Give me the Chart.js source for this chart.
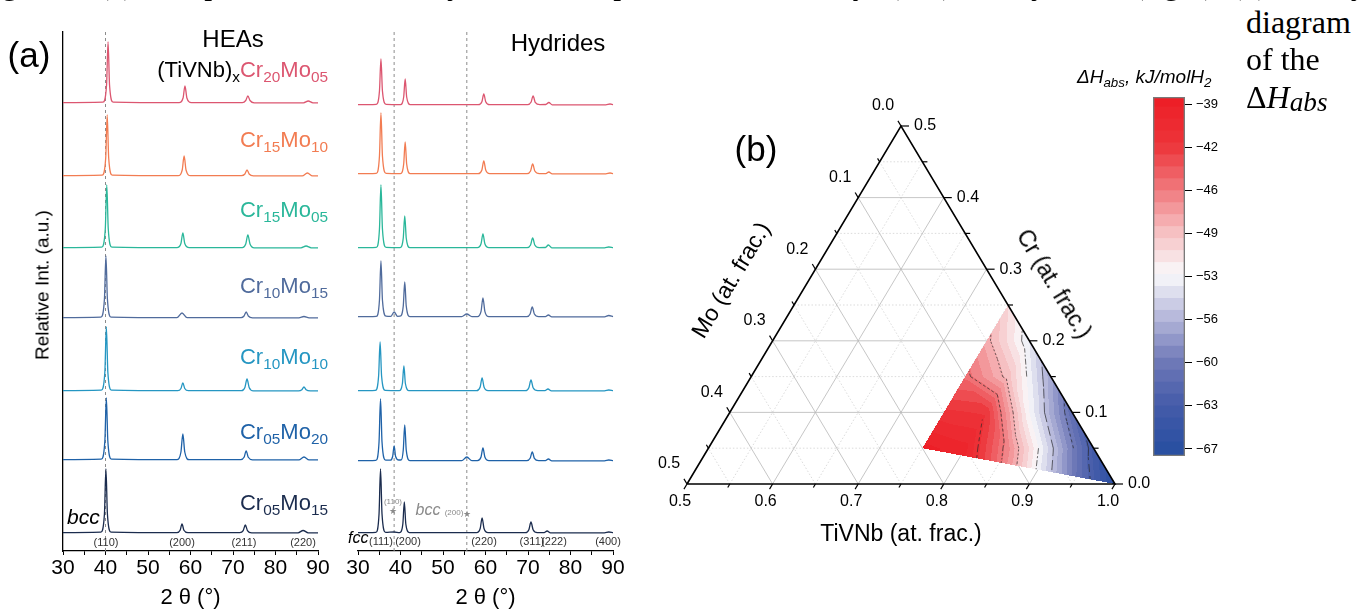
<!DOCTYPE html>
<html>
<head>
<meta charset="utf-8">
<script src="https://cdn.jsdelivr.net/npm/chart.js@4.4.0/dist/chart.umd.min.js"></script>
<style>
html, body { margin: 0; padding: 0; background: #fff; }
body { width: 1366px; height: 609px; position: relative; overflow: hidden; }
canvas { position: absolute; }
.lbl { position: absolute; white-space: nowrap; font-family: Arial, "Liberation Sans", sans-serif; line-height: 1; color: #000; }
.c { transform: translate(-50%, -50%); }
.r { transform: translate(-100%, -50%); }
.l { transform: translateY(-50%); }
.s { font-size: 70%; position: relative; top: .32em; }
.serif { position: absolute; white-space: nowrap; font-family: "Liberation Serif", "Times New Roman", serif; font-size: 32px; line-height: 1; color: #000; }
.hkl { font-size: 11px; color: #333; }
.gray { color: #8a8a8a; }
</style>
</head>
<body>
<canvas id="xrdHea" width="340" height="609" style="left:0;top:0"></canvas>
<canvas id="xrdHyd" width="300" height="609" style="left:340px;top:0"></canvas>
<canvas id="ternary" width="520" height="609" style="left:640px;top:0"></canvas>
<canvas id="cbar" width="110" height="420" style="left:1140px;top:60px"></canvas>

<!-- caption fragments -->
<div class="serif" style="left:-25px;top:-33px">Figure 2. (a) Comparison of the X-ray diffraction patterns of the alloys (left) and hydrides (right), (b) ternary</div>
<div class="serif" style="left:1246px;top:6px">diagram</div>
<div class="serif" style="left:1246px;top:43px">of the</div>
<div class="serif" style="left:1246px;top:81px">&Delta;<i>H</i><i style="font-size:85%;position:relative;top:.12em">abs</i></div>

<!-- panel (a) -->
<div class="lbl c" style="left:29px;top:54px;font-size:35px">(a)</div>
<div class="lbl c" style="left:233px;top:39px;font-size:24px">HEAs</div>
<div class="lbl c" style="left:558px;top:43px;font-size:24px">Hydrides</div>
<div class="lbl r" style="left:328px;top:70px;font-size:22px">(TiVNb)<span class="s">x</span><span style="color:#dc5670">Cr<span class="s">20</span>Mo<span class="s">05</span></span></div>
<div class="lbl r" style="left:328px;top:140px;font-size:22px;color:#f27c52">Cr<span class="s">15</span>Mo<span class="s">10</span></div>
<div class="lbl r" style="left:328px;top:210px;font-size:22px;color:#2ab79a">Cr<span class="s">15</span>Mo<span class="s">05</span></div>
<div class="lbl r" style="left:328px;top:286px;font-size:22px;color:#506b9c">Cr<span class="s">10</span>Mo<span class="s">15</span></div>
<div class="lbl r" style="left:328px;top:357px;font-size:22px;color:#2596c2">Cr<span class="s">10</span>Mo<span class="s">10</span></div>
<div class="lbl r" style="left:328px;top:432px;font-size:22px;color:#1f62a8">Cr<span class="s">05</span>Mo<span class="s">20</span></div>
<div class="lbl r" style="left:328px;top:503px;font-size:22px;color:#1b2c4e">Cr<span class="s">05</span>Mo<span class="s">15</span></div>
<div class="lbl" style="left:67px;top:506px;font-size:21px;font-style:italic">bcc</div>
<div class="lbl c hkl" style="left:106px;top:542px">(110)</div>
<div class="lbl c hkl" style="left:182px;top:542px">(200)</div>
<div class="lbl c hkl" style="left:244px;top:542px">(211)</div>
<div class="lbl c hkl" style="left:303px;top:542px">(220)</div>
<div class="lbl c" style="left:42px;top:285px;font-size:19px;transform:translate(-50%,-50%) rotate(-90deg)">Relative Int. (a.u.)</div>

<div class="lbl" style="left:348px;top:530px;font-size:16px;font-style:italic">fcc</div>
<div class="lbl c hkl" style="left:381px;top:541px">(111)</div>
<div class="lbl c hkl" style="left:408px;top:541px">(200)</div>
<div class="lbl c hkl" style="left:484px;top:541px">(220)</div>
<div class="lbl c hkl" style="left:532px;top:541px">(311)</div>
<div class="lbl c hkl" style="left:554px;top:541px">(222)</div>
<div class="lbl c hkl" style="left:608px;top:541px">(400)</div>
<div class="lbl c gray" style="left:393px;top:502px;font-size:8px">(110)</div>
<div class="lbl c gray" style="left:393px;top:511px;font-size:9px">&#9733;</div>
<div class="lbl c gray" style="left:428px;top:510px;font-size:16px;font-style:italic">bcc</div>
<div class="lbl c gray" style="left:454px;top:513px;font-size:8px">(200)</div>
<div class="lbl c gray" style="left:467px;top:514px;font-size:9px">&#9733;</div>

<!-- panel (b) -->
<div class="lbl c" style="left:756px;top:148px;font-size:35px">(b)</div>
<div class="lbl c" style="left:901px;top:533px;font-size:23px">TiVNb (at. frac.)</div>
<div class="lbl" style="left:731px;top:280px;font-size:23px;transform:translate(-50%,-50%) rotate(-59deg)">Mo (at. frac.)</div>
<div class="lbl" style="left:1054px;top:284px;font-size:23px;transform:translate(-50%,-50%) rotate(59deg)">Cr (at. frac.)</div>
<div class="lbl l" style="left:1077px;top:76px;font-size:19px;font-style:italic">&Delta;H<span class="s">abs</span>, kJ/molH<span class="s">2</span></div>

<script>
Chart.defaults.font.family = 'Arial, "Liberation Sans", sans-serif';
Chart.defaults.color = '#000';

// ---- XRD data: [2theta, relative intensity] ----
const sampleNames = ['Cr20Mo05', 'Cr15Mo10', 'Cr15Mo05', 'Cr10Mo15', 'Cr10Mo10', 'Cr05Mo20', 'Cr05Mo15'];
const traceColors = ['#dc5670', '#f27c52', '#2ab79a', '#506b9c', '#2596c2', '#1f62a8', '#1b2c4e'];
const heaOffsets = [448, 375, 303, 233, 160, 91, 18];
const hydOffsets = [446, 377, 303, 234, 160, 90, 18];
const xTicks = [30, 40, 50, 60, 70, 80, 90];
const heaRefLines = [40.0];
const hydRefLines = [38.5, 55.6];

const heaPatterns = [
  [[30,0.3],[39.4,0.8],[40.25,18],[40.6,61],[40.95,18],[41.8,0.8],[57.3,0.3],[58.25,5],[58.7,17],[59.15,5],[60.2,0.3],[72.2,0.3],[73.0,2.5],[73.5,7],[74.0,2.5],[75.0,0.2],[86.6,0.2],[87.7,2],[88.8,0.2],[90,0.2]],
  [[30,0.3],[39.2,0.8],[40.05,18],[40.4,61],[40.75,18],[41.6,0.8],[57.1,0.3],[58.05,6],[58.5,20],[58.95,6],[60.0,0.3],[72.0,0.3],[72.8,2],[73.3,6],[73.8,2],[74.8,0.2],[86.3,0.2],[87.5,3],[88.7,0.2],[90,0.2]],
  [[30,0.3],[39.1,0.8],[39.95,19],[40.3,63],[40.65,19],[41.5,0.8],[56.8,0.3],[57.75,4.5],[58.2,15],[58.65,4.5],[59.7,0.3],[72.2,0.3],[73.0,4],[73.5,13],[74.0,4],[75.0,0.2],[86.0,0.2],[87.2,2],[88.4,0.2],[90,0.2]],
  [[30,0.3],[38.9,0.8],[39.75,19],[40.1,62],[40.45,19],[41.3,0.8],[56.8,0.3],[58.0,5],[59.2,0.3],[71.9,0.3],[72.6,2],[73.1,6],[73.6,2],[74.6,0.2],[85.5,0.2],[86.7,1.5],[87.9,0.2],[90,0.2]],
  [[30,0.3],[39.0,0.8],[39.85,19],[40.2,64],[40.55,19],[41.4,0.8],[57.0,0.3],[57.75,2.5],[58.2,8],[58.65,2.5],[59.5,0.3],[72.0,0.3],[72.8,3.6],[73.3,12],[73.8,3.6],[74.8,0.2],[85.4,0.2],[86.2,1.3],[86.7,4],[87.2,1.3],[88.2,0.2],[90,0.2]],
  [[30,0.3],[39.0,0.8],[39.85,19],[40.2,62],[40.55,19],[41.4,0.8],[56.8,0.3],[57.75,8],[58.2,26],[58.65,8],[59.7,0.3],[71.8,0.3],[72.6,2.7],[73.1,9],[73.6,2.7],[74.6,0.2],[85.5,0.2],[86.7,3],[87.9,0.2],[90,0.2]],
  [[30,0.3],[38.9,0.8],[39.75,19],[40.1,64],[40.45,19],[41.3,0.8],[56.8,0.3],[57.55,2.7],[58.0,9],[58.45,2.7],[59.4,0.3],[71.6,0.3],[72.4,2.4],[72.9,8],[73.4,2.4],[74.4,0.2],[85.3,0.2],[86.5,2.5],[87.7,0.2],[90,0.2]]
];

const hydPatterns = [
  [[30,0.3],[34.3,0.6],[35.05,14],[35.4,46],[35.75,14],[36.6,0.6],[40.0,0.4],[40.75,8],[41.1,26],[41.45,8],[42.3,0.4],[58.3,0.3],[59.15,3.3],[59.6,11],[60.05,3.3],[61.0,0.3],[69.9,0.3],[70.7,2.7],[71.2,9],[71.7,2.7],[72.8,0.4],[74.2,0.5],[74.9,2.5],[75.7,0.2],[88.3,0.2],[89.3,1],[90,0.3]],
  [[30,0.3],[34.3,0.6],[35.05,18],[35.4,61],[35.75,18],[36.6,0.6],[40.0,0.4],[40.75,10],[41.1,32],[41.45,10],[42.3,0.4],[58.3,0.3],[59.15,4],[59.6,13],[60.05,4],[61.0,0.3],[69.8,0.3],[70.6,3],[71.1,10],[71.6,3],[72.7,0.4],[74.2,0.4],[74.9,2],[75.7,0.2],[88.3,0.2],[89.3,1],[90,0.3]],
  [[30,0.3],[34.3,0.6],[35.05,19],[35.4,63],[35.75,19],[36.6,0.6],[39.9,0.4],[40.65,10],[41.0,32],[41.35,10],[42.2,0.4],[58.1,0.3],[58.95,4.2],[59.4,14],[59.85,4.2],[60.8,0.3],[69.8,0.3],[70.6,3],[71.1,10],[71.6,3],[72.6,0.4],[74.1,0.5],[74.8,3],[75.6,0.2],[88.0,0.2],[89.0,1],[90,0.3]],
  [[30,0.3],[34.3,0.6],[35.05,17],[35.4,56],[35.75,17],[36.6,0.8],[37.7,0.6],[38.5,5],[39.3,0.7],[39.9,0.8],[40.65,11],[41.0,35],[41.35,11],[42.2,0.4],[54.4,0.3],[55.6,3],[56.8,0.3],[58.1,0.4],[58.95,5.7],[59.4,19],[59.85,5.7],[60.8,0.3],[69.7,0.3],[70.5,3],[71.0,10],[71.5,3],[72.5,0.4],[74.1,0.4],[74.8,2],[75.6,0.2],[88.0,0.2],[89.0,1.5],[90,0.3]],
  [[30,0.3],[34.1,0.6],[34.85,15],[35.2,49],[35.55,15],[36.4,0.6],[39.7,0.4],[40.45,7.5],[40.8,25],[41.15,7.5],[42.0,0.4],[57.9,0.3],[58.75,4],[59.2,13],[59.65,4],[60.6,0.3],[69.4,0.3],[70.2,3.3],[70.7,11],[71.2,3.3],[72.3,0.4],[74.0,0.4],[74.7,2],[75.5,0.2],[88.0,0.2],[89.0,1],[90,0.3]],
  [[30,0.3],[34.2,0.6],[34.95,19],[35.3,62],[35.65,19],[36.5,0.8],[37.6,0.8],[38.15,4.5],[38.5,15],[38.85,4.5],[39.6,1],[40.2,1.2],[40.65,11],[41.0,36],[41.35,11],[42.2,0.4],[54.4,0.3],[55.6,4],[56.8,0.3],[58.1,0.4],[58.95,4],[59.4,13],[59.85,4],[60.8,0.3],[69.7,0.3],[70.5,2.7],[71.0,9],[71.5,2.7],[72.5,0.4],[74.1,0.4],[74.8,2],[75.6,0.2],[88.0,0.2],[89.0,1],[90,0.3]],
  [[30,0.3],[34.2,0.6],[34.95,19],[35.3,64],[35.65,19],[36.5,0.6],[38.5,1],[39.8,0.4],[40.55,9],[40.9,31],[41.25,9],[42.1,0.4],[57.9,0.3],[58.75,4.5],[59.2,15],[59.65,4.5],[60.6,0.3],[69.4,0.3],[70.2,3.3],[70.7,11],[71.2,3.3],[72.2,0.4],[73.8,0.4],[74.5,2],[75.3,0.2],[88.0,0.2],[89.0,1],[90,0.3]]
];

// ---- ternary data ----
const regionT = [0.75, 0.75, 1.0];
const regionC = [0.25, 0.05, 0.0];
const heatT = [0.75, 0.75, 0.75, 0.75, 0.75, 0.75, 0.80, 0.80, 0.80, 0.80, 0.80, 0.85, 0.85, 0.85, 0.85, 0.90, 0.90, 0.90, 0.95, 0.95, 1.00];
const heatC = [0.25, 0.20, 0.15, 0.10, 0.05, 0.00, 0.20, 0.15, 0.10, 0.05, 0.00, 0.15, 0.10, 0.05, 0.00, 0.10, 0.05, 0.00, 0.05, 0.00, 0.00];
const heatV = [-51, -48.5, -45.5, -42, -39, -38.5, -54, -49.5, -42.5, -40, -39.5, -57.5, -53, -46.8, -44, -61.5, -55.5, -52, -64, -60, -67];
const contourLevels = [-42, -46, -49, -53, -56, -60, -63];
const tivnbTicks = [0.5, 0.6, 0.7, 0.8, 0.9, 1.0];
const sideTicks = [0.0, 0.1, 0.2, 0.3, 0.4, 0.5];
const gridMajor = [0.1, 0.2, 0.3, 0.4];
const gridMinor = [0.05, 0.15, 0.25, 0.35, 0.45];

// ---- colour bar ----
const cbLo = -67.57, cbHi = -38.43, cbBands = 30;
const cbTicks = [-67, -63.5, -60, -56.5, -53, -49.5, -46, -42.5, -39];
const cmapStops = [
  [-67.6, [38, 78, 160]],
  [-63.5, [70, 92, 170]],
  [-60, [112, 122, 184]],
  [-56.5, [182, 184, 219]],
  [-53, [250, 250, 252]],
  [-49.5, [246, 190, 192]],
  [-46, [240, 118, 122]],
  [-42.5, [237, 52, 57]],
  [-38.4, [237, 28, 36]]
];

function cmap(v) {
  if (v <= cmapStops[0][0]) return cmapStops[0][1];
  for (let k = 1; k < cmapStops.length; k++) {
    const [v1, c1] = cmapStops[k];
    if (v <= v1) {
      const [v0, c0] = cmapStops[k - 1];
      const f = (v - v0) / (v1 - v0);
      return c0.map((x, i) => Math.round(x + (c1[i] - x) * f));
    }
  }
  return cmapStops[cmapStops.length - 1][1];
}
function bandColor(v) {
  let k = Math.floor((v - cbLo) / (cbHi - cbLo) * cbBands);
  k = Math.max(0, Math.min(cbBands - 1, k));
  return cmap(cbLo + (k + 0.5) * (cbHi - cbLo) / cbBands);
}

// ---- XRD charts ----
function xrdChart(id, patterns, offsets, refLines, pad, showY) {
  const datasets = patterns.map((pts, i) => ({
    label: sampleNames[i],
    data: pts.map(p => ({ x: p[0], y: p[1] + offsets[i] })),
    borderColor: traceColors[i], borderWidth: 1.3, pointRadius: 0, showLine: true,
    tension: 0.4, cubicInterpolationMode: 'monotone', fill: false, clip: false
  }));
  refLines.forEach(v => datasets.push({
    data: [{ x: v, y: 0 }, { x: v, y: 519 }], borderColor: '#8c8c8c', borderWidth: 1,
    borderDash: [3, 3], pointRadius: 0, showLine: true
  }));
  new Chart(document.getElementById(id), {
    type: 'scatter',
    data: { datasets },
    options: {
      responsive: false, animation: false, events: [],
      layout: { padding: pad },
      plugins: { legend: { display: false }, tooltip: { enabled: false } },
      scales: {
        x: {
          min: 30, max: 90,
          afterBuildTicks: s => { s.ticks = []; for (let v = 30; v <= 90; v += 5) s.ticks.push({ value: v }); },
          ticks: { callback: v => xTicks.includes(v) ? String(v) : '', font: { size: 21 }, color: '#000', padding: 1, maxRotation: 0, autoSkip: false },
          grid: { display: true, drawOnChartArea: false, drawTicks: true, tickLength: 4, tickColor: '#000' },
          border: { display: true, color: '#000', width: 1.3 },
          title: { display: true, text: '2 \u03b8 (\u00b0)', font: { size: 22, lineHeight: 1 }, color: '#000', padding: { top: 0, bottom: 0 } },
          afterFit: s => { s.height = 58; }
        },
        y: {
          display: showY, min: 0, max: 519,
          ticks: { display: false },
          grid: { display: false, drawTicks: false },
          border: { display: true, color: '#000', width: 1.3 },
          afterFit: s => { s.width = 0; }
        }
      }
    }
  });
}
xrdChart('xrdHea', heaPatterns, heaOffsets, heaRefLines, { left: 63, right: 22, top: 32, bottom: 0 }, true);
xrdChart('xrdHyd', hydPatterns, hydOffsets, hydRefLines, { left: 18, right: 27, top: 32, bottom: 0 }, false);

// ---- ternary chart ----
const tp = (t, c) => ({ x: t + c / 2, y: c });
const nodeMap = new Map();
heatT.forEach((t, k) => nodeMap.set(Math.round((t - 0.75) / 0.05) + '_' + Math.round(heatC[k] / 0.05), heatV[k]));
const node = (i, j) => nodeMap.get(i + '_' + j);

function heatValue(t, c) {
  const u = (t - 0.75) / 0.05, w = c / 0.05;
  const i = Math.max(0, Math.min(4, Math.floor(u))), j = Math.max(0, Math.min(4, Math.floor(w)));
  const fu = u - i, fw = w - j;
  if (fu + fw <= 1) {
    const a = node(i, j), b = node(i + 1, j), d = node(i, j + 1);
    return (a ?? NaN) * (1 - fu - fw) + (b ?? NaN) * fu + (d ?? NaN) * fw;
  }
  const a = node(i + 1, j), b = node(i, j + 1), d = node(i + 1, j + 1);
  return (d ?? NaN) * (fu + fw - 1) + (a ?? NaN) * (1 - fw) + (b ?? NaN) * (1 - fu);
}

function insidePoly(poly, x, y) {
  let ins = false;
  for (let a = 0, b = poly.length - 1; a < poly.length; b = a++) {
    const pa = poly[a], pb = poly[b];
    if ((pa.y > y) !== (pb.y > y) && x < (pb.x - pa.x) * (y - pa.y) / (pb.y - pa.y) + pa.x) ins = !ins;
  }
  return ins;
}

function drawHeat(chart) {
  const xs = chart.scales.x, ys = chart.scales.y, ctx = chart.ctx;
  const px = (t, c) => ({ x: xs.getPixelForValue(t + c / 2), y: ys.getPixelForValue(c) });
  const poly = regionT.map((t, k) => px(t, regionC[k]));
  const x0 = Math.floor(Math.min(...poly.map(p => p.x))), x1 = Math.ceil(Math.max(...poly.map(p => p.x)));
  const y0 = Math.floor(Math.min(...poly.map(p => p.y))), y1 = Math.ceil(Math.max(...poly.map(p => p.y)));
  const w = x1 - x0, h = y1 - y0;
  const img = ctx.getImageData(x0, y0, w, h);
  for (let yy = 0; yy < h; yy++) {
    for (let xx = 0; xx < w; xx++) {
      const cx = x0 + xx + 0.5, cy = y0 + yy + 0.5;
      if (!insidePoly(poly, cx, cy)) continue;
      const c = ys.getValueForPixel(cy), t = xs.getValueForPixel(cx) - c / 2;
      const v = heatValue(t, c);
      if (isNaN(v)) continue;
      const col = bandColor(v);
      const o = (yy * w + xx) * 4;
      img.data[o] = col[0]; img.data[o + 1] = col[1]; img.data[o + 2] = col[2]; img.data[o + 3] = 255;
    }
  }
  ctx.putImageData(img, x0, y0);

  // contour lines on the node triangulation
  const tris = [];
  for (let i = 0; i <= 4; i++) {
    for (let j = 0; j <= 4 - i; j++) {
      tris.push([[i, j], [i + 1, j], [i, j + 1]]);
      if (i + j <= 3) tris.push([[i + 1, j], [i, j + 1], [i + 1, j + 1]]);
    }
  }
  const dashes = [[4, 3], [3, 2], [2, 2], [6, 2, 2, 2], [10, 4], [3, 3], [8, 4]];
  ctx.save();
  ctx.beginPath();
  poly.forEach((p, k) => k ? ctx.lineTo(p.x, p.y) : ctx.moveTo(p.x, p.y));
  ctx.closePath();
  ctx.clip();
  ctx.strokeStyle = 'rgba(40,40,40,0.85)';
  ctx.lineWidth = 0.8;
  contourLevels.forEach((L, li) => {
    ctx.setLineDash(dashes[li % dashes.length]);
    ctx.beginPath();
    tris.forEach(tri => {
      const vs = tri.map(([i, j]) => ({ t: 0.75 + 0.05 * i, c: 0.05 * j, v: node(i, j) }));
      if (vs.some(q => q.v === undefined)) return;
      const pts = [];
      for (let e = 0; e < 3; e++) {
        const a = vs[e], b = vs[(e + 1) % 3];
        if ((a.v - L) * (b.v - L) < 0) {
          const f = (L - a.v) / (b.v - a.v);
          pts.push(px(a.t + (b.t - a.t) * f, a.c + (b.c - a.c) * f));
        }
      }
      if (pts.length === 2) { ctx.moveTo(pts[0].x, pts[0].y); ctx.lineTo(pts[1].x, pts[1].y); }
    });
    ctx.stroke();
  });
  ctx.restore();
}

const ternaryPlugin = {
  id: 'ternaryPlugin',
  beforeDatasetDraw(chart, args) {
    if (chart.data.datasets[args.index].label === 'region') drawHeat(chart);
  },
  afterDraw(chart) {
    const xs = chart.scales.x, ys = chart.scales.y, ctx = chart.ctx;
    const px = (t, c) => ({ x: xs.getPixelForValue(t + c / 2), y: ys.getPixelForValue(c) });
    ctx.save();
    ctx.strokeStyle = '#000';
    ctx.fillStyle = '#000';
    ctx.lineWidth = 1.2;
    ctx.font = '16px Arial, "Liberation Sans", sans-serif';
    const tick = (p, dx, dy, len) => { ctx.beginPath(); ctx.moveTo(p.x, p.y); ctx.lineTo(p.x + dx * len, p.y + dy * len); ctx.stroke(); };
    // TiVNb (bottom)
    ctx.textAlign = 'center'; ctx.textBaseline = 'middle';
    tivnbTicks.forEach((v, k) => {
      const p = px(v, 0);
      tick(p, -0.51, 0.86, 6);
      ctx.fillText(v.toFixed(1), p.x - 7, p.y + 18);
      if (k < tivnbTicks.length - 1) tick(px(v + 0.05, 0), -0.51, 0.86, 4);
    });
    // Cr (right)
    ctx.textAlign = 'left';
    sideTicks.forEach((v, k) => {
      const p = px(1 - v, v);
      tick(p, 1, 0, 8);
      ctx.fillText(v.toFixed(1), p.x + 13, p.y);
      if (k < sideTicks.length - 1) tick(px(0.95 - v, v + 0.05), 1, 0, 5);
    });
    // Mo (left)
    ctx.textAlign = 'center';
    sideTicks.forEach((v, k) => {
      const p = px(0.5, 0.5 - v);
      tick(p, -0.51, -0.86, 6);
      ctx.fillText(v.toFixed(1), p.x - 18, p.y - 20);
      if (k < sideTicks.length - 1) tick(px(0.5, 0.45 - v), -0.51, -0.86, 4);
    });
    ctx.restore();
  }
};

const ternDatasets = [];
const lineDs = (pts, color, width, dash, label) => ({
  label, data: pts, borderColor: color, borderWidth: width, borderDash: dash,
  pointRadius: 0, showLine: true, fill: false, clip: false, tension: 0
});
ternDatasets.push(lineDs([tp(0.5, 0), tp(1, 0), tp(0.5, 0.5), tp(0.5, 0)], '#000', 1.6, [], 'outline'));
ternDatasets.push(lineDs(regionT.map((t, k) => tp(t, regionC[k])), 'rgba(0,0,0,0)', 0, [], 'region'));
function addGrid(v, color, dash) {
  ternDatasets.push(lineDs([tp(0.5, v), tp(1 - v, v)], color, 0.8, dash, 'grid'));       // constant Cr
  ternDatasets.push(lineDs([tp(1 - v, 0), tp(0.5, 0.5 - v)], color, 0.8, dash, 'grid')); // constant Mo
  ternDatasets.push(lineDs([tp(0.5 + v, 0), tp(0.5 + v, 0.5 - v)], color, 0.8, dash, 'grid')); // constant TiVNb
}
gridMajor.forEach(v => addGrid(v, '#b8b8b8', []));
gridMinor.forEach(v => addGrid(v, '#d2d2d2', [1.5, 2]));

new Chart(document.getElementById('ternary'), {
  type: 'scatter',
  data: { datasets: ternDatasets },
  options: {
    responsive: false, animation: false, events: [],
    layout: { padding: { left: 47, right: 45, top: 126, bottom: 125 } },
    plugins: { legend: { display: false }, tooltip: { enabled: false } },
    scales: {
      x: { display: false, min: 0.5, max: 1.0 },
      y: { display: false, min: 0, max: 0.5 }
    }
  },
  plugins: [ternaryPlugin]
});

// ---- colour bar chart ----
const cbDatasets = [{
  data: [[cbLo, cbHi]], backgroundColor: 'rgba(0,0,0,0)', borderColor: '#7a7a7a', borderWidth: 1,
  borderSkipped: false, grouped: false, barPercentage: 1, categoryPercentage: 1
}];
const bandW = (cbHi - cbLo) / cbBands;
for (let k = 0; k < cbBands; k++) {
  const col = cmap(cbLo + (k + 0.5) * bandW);
  cbDatasets.push({
    data: [[cbLo + k * bandW, Math.min(cbHi, cbLo + (k + 1) * bandW + 0.2)]],
    backgroundColor: 'rgb(' + col.join(',') + ')', borderWidth: 0, inflateAmount: 0,
    grouped: false, barPercentage: 1, categoryPercentage: 1
  });
}
new Chart(document.getElementById('cbar'), {
  type: 'bar',
  data: { labels: [''], datasets: cbDatasets },
  options: {
    responsive: false, animation: false, events: [],
    layout: { padding: { left: 13, right: 10, top: 37, bottom: 24 } },
    plugins: { legend: { display: false }, tooltip: { enabled: false } },
    scales: {
      x: { display: false },
      y: {
        position: 'right', min: cbLo, max: cbHi,
        afterBuildTicks: s => { s.ticks = cbTicks.map(v => ({ value: v })); },
        ticks: { callback: v => '\u2212' + Math.abs(Math.trunc(v)), font: { size: 13 }, color: '#000', padding: 4 },
        grid: { display: true, drawOnChartArea: false, drawTicks: true, tickLength: 7, tickColor: '#000' },
        border: { display: false },
        afterFit: s => { s.width = 55; }
      }
    }
  }
});
</script>
</body>
</html>
